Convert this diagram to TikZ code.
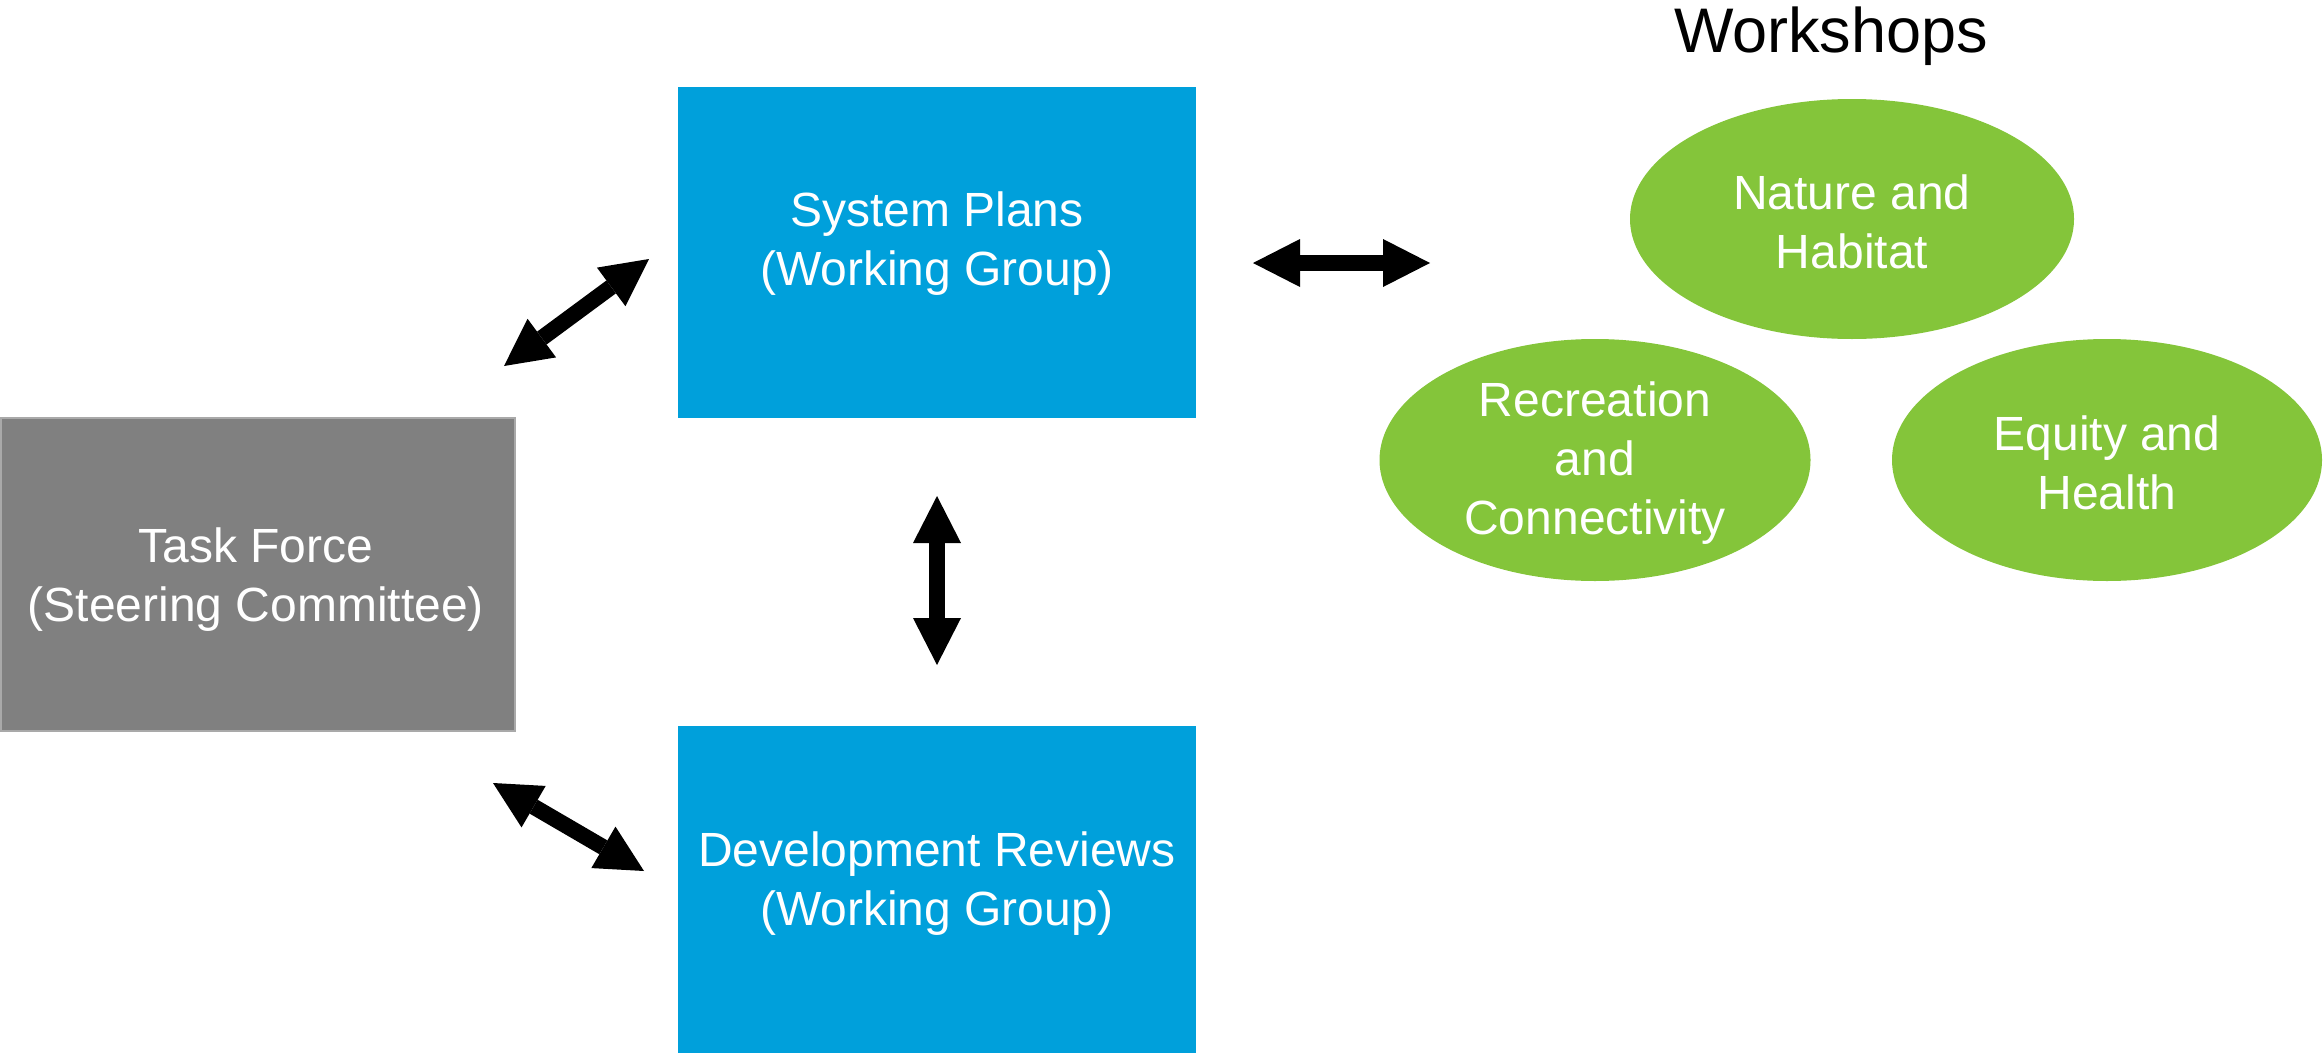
\documentclass[tikz,border=0pt]{standalone}
\usepackage{fontspec}
\setmainfont{Liberation Sans}
\usetikzlibrary{arrows.meta,shapes.geometric,positioning}
\definecolor{boxblue}{HTML}{00A0DB}
\definecolor{boxgray}{HTML}{808080}
\definecolor{edgegray}{HTML}{A9A9A9}
\definecolor{ellgreen}{HTML}{84C53A}
\tikzset{
  txt/.style={text=white, align=center, inner sep=0pt, font=\fontsize{48}{59}\selectfont},
  bluebox/.style={fill=boxblue, draw=none, rectangle, inner sep=0pt},
  greenell/.style={ellipse, fill=ellgreen, draw=none, inner sep=0pt},
  dblarrow/.style={line width=16pt, black,
    {Triangle[length=47pt,width=48pt,line width=0pt]}-{Triangle[length=47pt,width=48pt,line width=0pt]}}
}
\begin{document}
\begin{tikzpicture}[x=1pt,y=-1pt]
\useasboundingbox (0,0) rectangle (2323,1052);
% boxes
\node[rectangle, fill=boxgray, draw=edgegray, line width=2pt, minimum width=514pt, minimum height=313pt, inner sep=0pt, anchor=north west] (tf) at (0,417) {};
\node[txt] (tftxt) at (256,580) {Task Force\\(Steering Committee)};
\node[bluebox, minimum width=518pt, minimum height=331pt, anchor=north west] (sp) at (678,87) {};
\node[txt] (sptxt) at (937,244) {System Plans\\(Working Group)};
\node[bluebox, minimum width=518pt, minimum height=331pt, anchor=north west] (dr) at (678,726) {};
\node[txt] (drtxt) at (937,884) {Development Reviews\\(Working Group)};
% workshops
\node[inner sep=0pt, anchor=base, font=\fontsize{63}{75}\selectfont] (ws) at (1831,52) {Workshops};
\node[greenell, minimum width=444pt, minimum height=240pt] (nh) at (1852,219) {};
\node[txt] (nhtxt) at ([yshift=-3pt]nh.center) {Nature and\\Habitat};
\node[greenell, minimum width=431pt, minimum height=242pt] (rc) at (1595,460) {};
\node[txt] (rctxt) at ([yshift=-3pt]rc.center) {Recreation\\and\\Connectivity};
\node[greenell, minimum width=430pt, minimum height=242pt] (eh) at (2107,460) {};
\node[txt] (ehtxt) at ([yshift=-3pt]eh.center) {Equity and\\Health};
% arrow endpoints
\coordinate (a1s) at (504,366);
\coordinate (a1e) at (649,259);
\coordinate (a2s) at (1253,263);
\coordinate (a2e) at (1430,263);
\coordinate (a3s) at (937,496);
\coordinate (a3e) at (937,665);
\coordinate (a4s) at (493,783);
\coordinate (a4e) at (644,871);
\draw[dblarrow] (a1s) -- (a1e);
\draw[dblarrow] (a2s) -- (a2e);
\draw[dblarrow] (a3s) -- (a3e);
\draw[dblarrow] (a4s) -- (a4e);
\end{tikzpicture}
\end{document}
